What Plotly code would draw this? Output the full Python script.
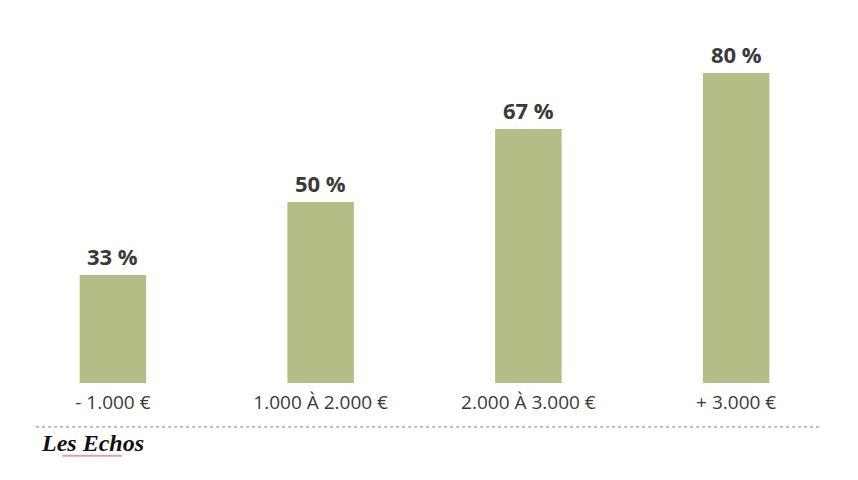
import plotly.graph_objects as go

# salary brackets and share (%)
categories = ["- 1.000 €", "1.000 À 2.000 €", "2.000 À 3.000 €", "+ 3.000 €"]
values = [33, 50, 67, 80]
value_labels = ["33 %", "50 %", "67 %", "80 %"]

BAR_COLOR = "#b3bd85"
TEXT_COLOR = "#3a3a3a"

fig = go.Figure()
fig.add_trace(go.Bar(
    x=categories,
    y=values,
    marker=dict(color=BAR_COLOR, line=dict(width=0)),
    hoverinfo="skip",
))

# value labels above each bar
for cat, val, lab in zip(categories, values, value_labels):
    fig.add_annotation(
        x=cat, y=val, text="<b>" + lab + "</b>",
        showarrow=False, yanchor="bottom", yshift=2,
        font=dict(family="Open Sans", size=22, color=TEXT_COLOR),
    )

# dotted separator
fig.add_shape(type="line", xref="paper", yref="paper",
              x0=0.0325, x1=0.976, y0=-0.128, y1=-0.128,
              line=dict(color="#9a9a9a", width=1.2, dash="dot"))

# logo
fig.add_annotation(
    xref="paper", yref="paper", x=0.036, y=-0.175,
    xanchor="left", yanchor="middle", showarrow=False,
    text="<i><b>Les Echos</b></i>",
    font=dict(family="Liberation Serif", size=24, color="#111111"),
)
fig.add_shape(type="line", xref="paper", yref="paper",
              x0=0.064, x1=0.136, y0=-0.212, y1=-0.212,
              line=dict(color="#d9a0b4", width=2))

# page body adds an 8px offset, so margins are shifted to compensate
fig.update_layout(
    width=858, height=480,
    margin=dict(l=1, r=26, t=32, b=105),
    paper_bgcolor="#ffffff",
    plot_bgcolor="#ffffff",
    bargap=0.68,
    showlegend=False,
    xaxis=dict(
        showgrid=False, zeroline=False, showline=False, ticks="",
        tickfont=dict(family="Open Sans", size=19, color=TEXT_COLOR),
        ticklabelstandoff=6,
    ),
    yaxis=dict(
        range=[7.9, 87.7], visible=False, showgrid=False, zeroline=False,
    ),
)

fig.write_html("out.html")
